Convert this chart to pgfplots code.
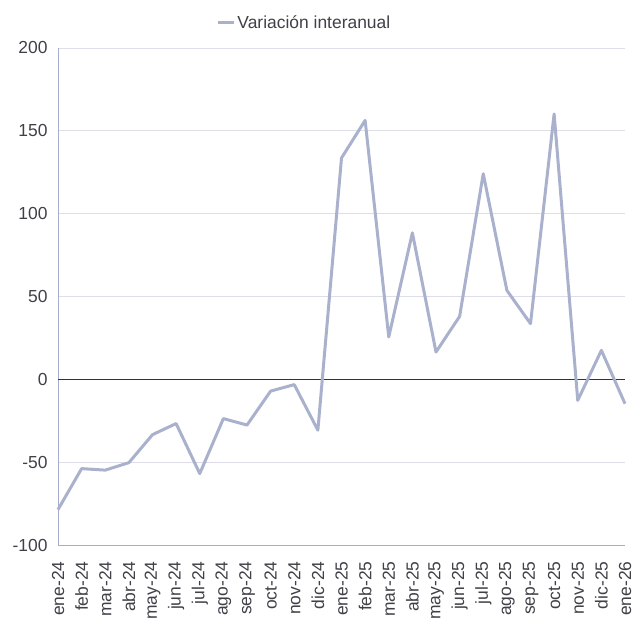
\documentclass[border=0pt]{standalone}
\usepackage{pgfplots}
\pgfplotsset{compat=1.18}
\usepackage{fontspec}
\setmainfont{Liberation Sans}
\definecolor{linec}{HTML}{A9B1CD}
\definecolor{gridc}{HTML}{DEDEEA}
\definecolor{axc}{HTML}{A8ACCC}
\definecolor{txt}{HTML}{404048}
\begin{document}
\begin{tikzpicture}
\useasboundingbox (0,0) rectangle (634bp,619bp);
\begin{axis}[
  at={(58bp,74bp)}, anchor=south west,
  scale only axis, width=567bp, height=497bp,
  xmin=0, xmax=24, ymin=-100, ymax=200,
  ytick={-100,-50,0,50,100,150,200},
  xtick={0,...,24},
  xticklabels={ene-24,feb-24,mar-24,abr-24,may-24,jun-24,jul-24,ago-24,sep-24,oct-24,nov-24,dic-24,ene-25,feb-25,mar-25,abr-25,may-25,jun-25,jul-25,ago-25,sep-25,oct-25,nov-25,dic-25,ene-26},
  x tick label style={rotate=90, anchor=east, xshift=-13bp, font=\fontsize{17.5}{19}\selectfont, text=txt},
  y tick label style={font=\fontsize{17.5}{19}\selectfont, text=txt, xshift=-7bp},
  /pgf/number format/assume math mode=true,
  major tick length=0pt,
  axis x line*=bottom, axis y line*=left,
  axis line style={draw=axc, line width=0.8bp, -},
  ymajorgrids, grid style={draw=gridc, line width=0.8bp},
  extra y ticks={0}, extra y tick labels={},
  extra y tick style={grid style={draw=black!80, line width=1bp}},
  clip=false,
  legend style={at={(0.4345,1)}, anchor=south, yshift=14bp, draw=none, fill=none,
    font=\fontsize{17.5}{19}\selectfont, text=txt, legend cell align=left},
  legend image code/.code={\draw[#1, line width=3bp] (0bp,0bp) -- (16bp,0bp);},
]
\addplot[color=linec, line width=3bp, line join=round] coordinates {
(0,-78.6) (1,-53.9) (2,-54.8) (3,-50.3) (4,-33.4) (5,-26.7) (6,-56.9) (7,-23.7)
(8,-27.6) (9,-7.1) (10,-3.2) (11,-30.7) (12,133.6) (13,156.3) (14,25.6) (15,88.4)
(16,16.5) (17,38.0) (18,124.1) (19,53.7) (20,33.6) (21,160.2) (22,-12.7) (23,17.5) (24,-14.7)
};
\addlegendentry{Variación interanual}
\end{axis}
\end{tikzpicture}
\end{document}
